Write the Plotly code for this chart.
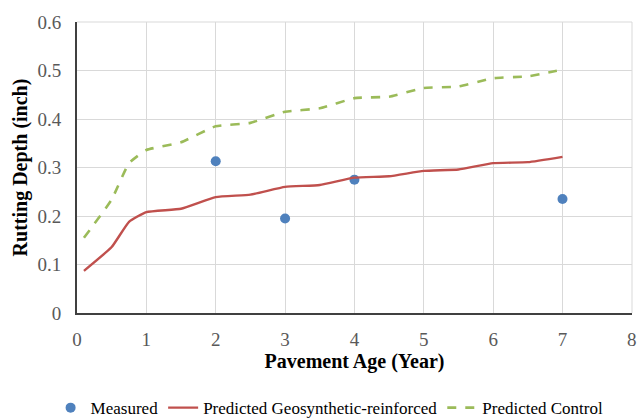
import plotly.graph_objects as go

measured_x = [2, 3, 4, 7]
measured_y = [0.313, 0.195, 0.275, 0.235]

pred_x = [0.1, 0.5, 0.75, 1.0, 1.5, 2.0, 2.5, 3.0, 3.5, 4.0, 4.5, 5.0, 5.5, 6.0, 6.5, 7.0]
geo_y = [0.087, 0.136, 0.188, 0.208, 0.215, 0.239, 0.244, 0.26, 0.264, 0.279, 0.282, 0.293, 0.296, 0.309, 0.311, 0.322]
ctrl_y = [0.155, 0.234, 0.309, 0.336, 0.352, 0.385, 0.392, 0.415, 0.422, 0.443, 0.446, 0.464, 0.467, 0.484, 0.488, 0.502]

x_ticks = [0, 1, 2, 3, 4, 5, 6, 7, 8]
y_ticks = [0, 0.1, 0.2, 0.3, 0.4, 0.5, 0.6]

font_family = "Liberation Serif, Times New Roman, serif"

fig = go.Figure()
fig.add_trace(go.Scatter(x=measured_x, y=measured_y, mode="markers", name="Measured",
                         marker=dict(color="#4F81BD", size=10)))
fig.add_trace(go.Scatter(x=pred_x, y=geo_y, mode="lines", name="Predicted Geosynthetic-reinforced",
                         line=dict(color="#C0504D", width=2.4, shape="spline", smoothing=0.4)))
fig.add_trace(go.Scatter(x=pred_x, y=ctrl_y, mode="lines", name="Predicted Control",
                         line=dict(color="#9BBB59", width=2.6, dash="dash", shape="spline", smoothing=0.4)))

fig.update_layout(
    width=640, height=419,
    margin=dict(l=77, r=8, t=22, b=106, autoexpand=False),
    paper_bgcolor="white", plot_bgcolor="white",
    font=dict(family=font_family, size=18, color="#595959"),
    showlegend=True,
    legend=dict(orientation="h", xref="container", yref="container",
                x=0.515, xanchor="center", y=0.026, yanchor="middle",
                font=dict(size=17, color="#000000"), itemwidth=30, tracegroupgap=0),
    xaxis=dict(range=[0, 8.002], tickvals=x_ticks, ticktext=[str(v) for v in x_ticks],
               showgrid=True, gridcolor="#d9d9d9", gridwidth=1,
               showline=True, linecolor="#404040", linewidth=2, mirror=False,
               zeroline=False, ticks="", tickfont=dict(size=19, color="#595959"),
               ticklabelstandoff=8,
               title=dict(text="<b>Pavement Age (Year)</b>", font=dict(size=20, color="#000000"), standoff=5)),
    yaxis=dict(range=[0, 0.6], tickvals=y_ticks, ticktext=["0", "0.1", "0.2", "0.3", "0.4", "0.5", "0.6"],
               showgrid=True, gridcolor="#d9d9d9", gridwidth=1,
               showline=True, linecolor="#404040", linewidth=2,
               zeroline=False, ticks="", tickfont=dict(size=19, color="#595959"),
               ticklabelstandoff=10,
               title=dict(text="<b>Rutting Depth (inch)</b>", font=dict(size=20, color="#000000"), standoff=4)),
)
# light border at top and right
fig.add_shape(type="line", xref="paper", yref="paper", x0=0, x1=1, y0=1, y1=1,
              line=dict(color="#d9d9d9", width=1), layer="below")
fig.add_shape(type="line", xref="paper", yref="paper", x0=1, x1=1, y0=0, y1=1,
              line=dict(color="#d9d9d9", width=1), layer="below")

fig.write_html("out.html", config={"displayModeBar": False},
               post_script="document.body.style.margin='0px';document.body.style.overflow='hidden';")
